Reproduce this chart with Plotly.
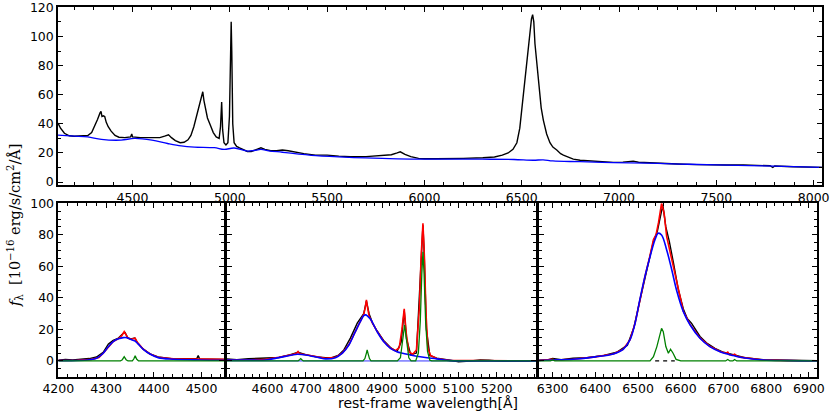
import plotly.graph_objects as go

# ---------------- top panel: full spectrum ----------------
top_wave = [4117, 4130, 4150, 4175, 4200, 4240, 4270, 4290, 4305, 4320, 4333, 4338, 4343, 4350, 4357,
            4365, 4375, 4390, 4410, 4430, 4460, 4490, 4496, 4500, 4540, 4580, 4610, 4640, 4665, 4685,
            4700, 4720, 4745, 4765, 4785, 4800, 4815, 4830, 4845, 4855, 4861, 4867, 4875, 4885, 4900,
            4915, 4930, 4945, 4952, 4958, 4963, 4970, 4980, 4990, 4998, 5004, 5007, 5010, 5015, 5022,
            5035, 5050, 5070, 5090, 5110, 5135, 5160, 5180, 5210, 5240, 5270, 5300, 5340, 5380, 5440,
            5500, 5560, 5620, 5700, 5780, 5830, 5860, 5876, 5900, 5930, 5970, 6000, 6060, 6126, 6200,
            6300, 6360, 6400, 6430, 6455, 6475, 6490, 6505, 6518, 6530, 6542, 6550, 6556, 6562, 6568,
            6577, 6590, 6600, 6611, 6620, 6628, 6645, 6660, 6680, 6700, 6714, 6740, 6765, 6800, 6851,
            6900, 6971, 7020, 7073, 7100, 7142, 7200, 7245, 7300, 7400, 7467, 7550, 7639, 7720, 7776,
            7790, 7800, 7895, 7960, 8043]
top_flux = [40.5, 37, 33.5, 31.8, 31.5, 31.8, 32, 34, 38, 43, 47.5, 48.5, 45, 45.5, 45,
            41, 38, 35, 32, 30.8, 30.5, 31, 33, 31, 30.5, 30.5, 30, 30.5, 31.5, 32.5,
            30.5, 28.5, 27, 27.3, 29, 32, 38, 46, 53, 59, 62, 56, 50, 44, 39,
            34, 31, 30, 38, 55, 36, 27, 25.5, 27, 45, 100, 110, 90, 40, 27,
            24.5, 23.5, 22, 21, 21, 22.5, 23.5, 22.5, 21.5, 21.5, 22, 21.5, 20.4, 19.5, 18.5,
            18.5, 17.8, 17.4, 17.5, 18, 18.8, 20, 20.8, 19, 17.5, 16.3, 16, 16, 16, 16.3,
            16.7, 17.2, 18.5, 20, 22.5, 27, 37, 56, 72, 90, 102, 112, 115, 110, 95,
            81, 61, 51, 42.6, 37, 33, 27, 24, 22, 19.5, 18.5, 17, 15.8, 15, 14.4,
            14, 13.5, 13.7, 14.4, 13.6, 13.3, 12.8, 12.5, 12.4, 12, 11.7, 11.7, 11.7, 11.4, 11.2,
            10, 11, 10.5, 10.3, 10.1]

cont_wave = [4117, 4200, 4270, 4340, 4441, 4510, 4600, 4680, 4750, 4818, 4920, 4971, 5022, 5091,
             5125, 5160, 5200, 5270, 5442, 5613, 5783, 5955, 6126, 6296, 6460, 6560, 6610, 6660,
             6800, 6971, 7142, 7313, 7500, 7800, 8043]
cont_flux = [32.3, 31.6, 31, 29.3, 28.8, 30, 28.8, 26.5, 24.8, 24, 23.6, 22.4, 23.4, 21.3,
             21.7, 22.4, 21.5, 20.5, 18.1, 16.9, 16.3, 15.8, 15.8, 15.7, 15.5, 15.0, 15.3, 14.5,
             14.0, 13.3, 13.0, 12.4, 11.8, 11.0, 10.1]

# ---------------- panel 1: H-gamma ----------------
p1_data_wave = [4200, 4215, 4230, 4252, 4265, 4280, 4294, 4305, 4315, 4326, 4336, 4340, 4345, 4352,
                4360, 4367, 4378, 4392, 4409, 4441, 4470, 4490, 4493, 4496, 4520, 4547]
p1_data_flux = [0.5, 1.0, 0.6, 1.3, 1.5, 2.5, 5.5, 10.8, 13, 14.5, 17.5, 18, 14.8, 14,
                14.5, 11, 7.5, 4.5, 2.5, 1.3, 1.2, 1.5, 3.4, 1.2, 1.1, 1.0]
p1_total_wave = [4200, 4240, 4270, 4285, 4294, 4305, 4315, 4326, 4333, 4338, 4342, 4346, 4352, 4357,
                 4361, 4365, 4370, 4378, 4392, 4409, 4441, 4480, 4547]
p1_total_flux = [0.3, 0.4, 1.0, 2.2, 4.9, 9.1, 12.3, 14.2, 16, 18.6, 16, 14.5, 13.8, 14,
                 14.4, 12, 10, 7.4, 4.4, 2.3, 1.3, 1.1, 1.0]
p1_broad_wave = [4200, 4240, 4265, 4280, 4294, 4305, 4315, 4326, 4336, 4343, 4351, 4360, 4367, 4378,
                 4392, 4409, 4441, 4496, 4547]
p1_broad_flux = [0.2, 0.3, 0.8, 1.7, 4.9, 9.1, 12.3, 14, 14.8, 14.8, 13.7, 12.7, 10.8, 7.4,
                 4.4, 2.1, 1.1, 0.6, 0.4]
p1_narrow_wave = [4200, 4330, 4334, 4338, 4342, 4346, 4355, 4358, 4361, 4364, 4368, 4547]
p1_narrow_flux = [0, 0, 0.8, 2.7, 0.8, 0, 0, 1.2, 3.2, 1.2, 0, 0]

# ---------------- panel 2: H-beta / [OIII] ----------------
p2_data_wave = [4494, 4520, 4550, 4580, 4600, 4630, 4660, 4680, 4700, 4730, 4752, 4770, 4785, 4800,
                4817, 4835, 4852, 4859, 4866, 4875, 4887, 4904, 4922, 4939, 4950, 4958, 4964, 4975,
                4990, 5000, 5004, 5007, 5010, 5016, 5025, 5043, 5078, 5100, 5120, 5157, 5180, 5217,
                5260, 5303]
p2_data_flux = [1.2, 0.8, 1.4, 1.6, 1.7, 2.2, 4.0, 5.5, 4.0, 2.5, 2.0, 2.2, 3.5, 7,
                14.5, 24, 30, 38, 30, 24, 19, 13, 8.5, 6, 12, 32, 14, 4,
                5, 55, 80, 86, 70, 20, 3.5, 1.8, 0.5, -0.5, -0.3, 0.6, 0.4, -0.3,
                -0.2, 0]
p2_total_wave = [4494, 4543, 4595, 4630, 4665, 4676, 4680, 4684, 4700, 4735, 4752, 4778, 4796, 4813,
                 4830, 4843, 4852, 4856, 4859, 4862, 4866, 4875, 4887, 4904, 4922, 4935, 4945, 4952,
                 4958, 4963, 4970, 4980, 4990, 4998, 5002, 5007, 5011, 5015, 5020, 5027, 5043, 5078,
                 5113, 5160, 5303]
p2_total_flux = [0.6, 0.6, 1.1, 2.3, 4.0, 4.8, 5.9, 4.6, 3.9, 2.3, 1.7, 2.3, 5, 10.2,
                 18.8, 25, 29.5, 34, 38.7, 34, 28.5, 24, 18.8, 12.5, 8.2, 6.5, 8.5, 20,
                 33, 18, 6, 4.2, 7, 35, 65, 87.3, 65, 30, 8, 3.5, 1.5, 0.3,
                 0.1, 0.2, 0]
p2_broad_wave = [4494, 4543, 4595, 4630, 4665, 4678, 4700, 4735, 4752, 4778, 4796, 4813, 4830, 4843,
                 4852, 4857, 4862, 4870, 4887, 4904, 4922, 4939, 4974, 5009, 5043, 5078, 5113, 5303]
p2_broad_flux = [0.5, 0.6, 0.6, 2.1, 3.8, 4.2, 3.8, 2.1, 1.3, 2.1, 4.9, 10.1, 18.6, 24.9,
                 28.7, 29.2, 28.5, 26.4, 18.6, 12.3, 8, 5.9, 3.8, 2.3, 1.3, 0.2, 0, 0]
p2_zero_wave = [4494, 5303]
p2_zero_flux = [0, 0]
p2_narrow_wave = [4494, 4680, 4684, 4687, 4690, 4694, 4850, 4855, 4859, 4861, 4863, 4867, 4871, 4940,
                  4948, 4953, 4957, 4959, 4961, 4965, 4970, 4976, 4988, 4995, 5000, 5004, 5007, 5010,
                  5014, 5019, 5025, 5030, 5303]
p2_narrow_flux = [0, 0, 0.8, 1.5, 0.8, 0, 0, 1.5, 5, 7, 5, 1.5, 0, 0,
                  2, 10, 19, 22.8, 19, 10, 2, 0, 0, 5, 25, 55, 69.3, 55,
                  25, 6, 0.5, 0, 0]

# ---------------- panel 3: H-alpha ----------------
p3_data_wave = [6268, 6290, 6300, 6320, 6348, 6380, 6420, 6450, 6475, 6490, 6504, 6516, 6528, 6536,
                6545, 6552, 6558, 6565, 6573, 6583, 6594, 6606, 6615, 6625, 6635, 6645, 6660, 6680,
                6700, 6723, 6750, 6793, 6850, 6919]
p3_data_flux = [0.5, 0.8, 1.5, 0.8, 1.7, 2, 3.5, 5.5, 10, 21, 38, 53, 67, 76,
                82, 92, 99, 85, 76, 62, 45.5, 33, 27, 24, 19.5, 15.5, 11.5, 8,
                5.5, 3.8, 2, 0.8, 0.4, 0.2]
p3_total_wave = [6268, 6295, 6300, 6305, 6348, 6400, 6442, 6465, 6481, 6493, 6504, 6516, 6528, 6536,
                 6542, 6548, 6555, 6561, 6567, 6575, 6583, 6594, 6606, 6622, 6645, 6668, 6692, 6706,
                 6710, 6714, 6722, 6726, 6731, 6739, 6793, 6850, 6919]
p3_total_flux = [0.3, 0.6, 1.1, 0.6, 1.1, 2.6, 4.4, 7.4, 13.3, 23.9, 38.7, 53.5, 67, 77,
                 80, 88, 100, 93.7, 78.8, 69.3, 59.8, 45, 31.5, 23, 14.6, 9.3, 6.0, 4.8,
                 5.6, 3.9, 3.8, 4.3, 3.2, 2.4, 0.6, 0.2, 0]
p3_broad_wave = [6268, 6300, 6348, 6400, 6442, 6465, 6481, 6493, 6504, 6516, 6528, 6540, 6547, 6555,
                 6567, 6579, 6590, 6606, 6622, 6645, 6668, 6692, 6723, 6739, 6793, 6850, 6919]
p3_broad_flux = [0.3, 0.6, 1.1, 2.6, 4.4, 7.4, 13.3, 23.9, 38.7, 53.5, 66.1, 77.2, 81, 79.9,
                 70.4, 57.7, 45, 31.3, 22.8, 14.4, 9.1, 5.9, 3.4, 2.3, 0.6, 0.2, 0]
p3_narrow_wave = [6268, 6295, 6300, 6305, 6528, 6536, 6544, 6551, 6555, 6559, 6565, 6571, 6576, 6582,
                  6589, 6600, 6705, 6710, 6715, 6722, 6726, 6731, 6919]
p3_narrow_flux = [0, 0, 0.6, 0, 0, 2.7, 9.1, 17.5, 20.7, 18.6, 9.1, 4.9, 7.4, 4.9,
                  1, 0, 0, 0.9, 0, 0, 0.9, 0, 0]
p3_dash_wave = [6540, 6586]
p3_dash_flux = [0, 0]

# ---------------- axis settings ----------------
top_xticks = [4500, 5000, 5500, 6000, 6500, 7000, 7500, 8000]
top_yticks = [0, 20, 40, 60, 80, 100, 120]
bot_yticks = [0, 20, 40, 60, 80, 100]
p1_xticks = [4200, 4300, 4400, 4500]
p2_xticks = [4600, 4700, 4800, 4900, 5000, 5100, 5200]
p3_xticks = [6300, 6400, 6500, 6600, 6700, 6800, 6900]

W, H = 830, 415
def fx(px): return min(1.0, max(0.0, px / W))
def fy(py): return min(1.0, max(0.0, 1 - py / H))

BLACK, RED, BLUE, GREEN = "#000000", "#ff0000", "#0000ff", "#008000"

fig = go.Figure()
def add(x, y, color, width, xa, ya, dash=None, shape="linear"):
    fig.add_trace(go.Scatter(x=x, y=y, mode="lines", xaxis=xa, yaxis=ya,
                             line=dict(color=color, width=width, dash=dash, shape=shape),
                             showlegend=False, hoverinfo="skip"))

add(top_wave, top_flux, BLACK, 1.4, "x", "y")
add(cont_wave, cont_flux, BLUE, 1.3, "x", "y", shape="spline")

add(p1_data_wave, p1_data_flux, BLACK, 1.4, "x2", "y2")
add(p1_total_wave, p1_total_flux, RED, 1.6, "x2", "y2")
add(p1_broad_wave, p1_broad_flux, BLUE, 1.6, "x2", "y2", shape="spline")
add(p1_narrow_wave, p1_narrow_flux, GREEN, 1.3, "x2", "y2")

add(p2_data_wave, p2_data_flux, BLACK, 1.4, "x3", "y3")
add(p2_total_wave, p2_total_flux, RED, 1.6, "x3", "y3")
add(p2_zero_wave, p2_zero_flux, BLUE, 0.8, "x3", "y3")
add(p2_broad_wave, p2_broad_flux, BLUE, 1.6, "x3", "y3", shape="spline")
add(p2_narrow_wave, p2_narrow_flux, GREEN, 1.3, "x3", "y3")

add(p3_data_wave, p3_data_flux, BLACK, 1.4, "x4", "y4")
add(p3_total_wave, p3_total_flux, RED, 1.6, "x4", "y4")
add(p3_broad_wave, p3_broad_flux, BLUE, 1.6, "x4", "y4", shape="spline")
add(p3_narrow_wave, p3_narrow_flux, GREEN, 1.3, "x4", "y4")
add(p3_dash_wave, p3_dash_flux, BLACK, 1.3, "x4", "y4", dash="4px,4px")

tickfont = dict(family="DejaVu Sans", size=12.5, color="black")
def xax(domain, rng, ticks, minor, anchor):
    return dict(domain=domain, range=rng, anchor=anchor, tickmode="array", tickvals=ticks,
                ticks="inside", ticklen=5, tickwidth=1, tickcolor="black", automargin=False,
                showline=True, linecolor="black", linewidth=1.5, mirror="allticks",
                showgrid=False, zeroline=False, tickfont=tickfont, ticklabeloverflow="allow",
                minor=dict(ticks="inside", ticklen=3, tickwidth=1, tickcolor="black", dtick=minor,
                           showgrid=False))
def yax(domain, rng, ticks, minor, anchor, labels=True):
    return dict(domain=domain, range=rng, anchor=anchor, tickmode="array", tickvals=ticks,
                ticks="inside", ticklen=5, tickwidth=1, tickcolor="black", automargin=False,
                showline=True, linecolor="black", linewidth=1.5, mirror="allticks",
                showgrid=False, zeroline=False, tickfont=tickfont, showticklabels=labels,
                ticklabeloverflow="allow",
                minor=dict(ticks="inside", ticklen=3, tickwidth=1, tickcolor="black", dtick=minor,
                           showgrid=False))

ytop = [fy(185), fy(7.3)]
ybot = [fy(376.7), fy(203.3)]
fig.update_layout(
    width=W, height=H, margin=dict(l=0, r=0, t=0, b=0, pad=0, autoexpand=False),
    paper_bgcolor="white", plot_bgcolor="white",
    xaxis=xax([fx(58), fx(822)], [4117, 8043], top_xticks, 100, "y"),
    yaxis=yax(ytop, [-2, 120], top_yticks, 10, "x"),
    xaxis2=xax([fx(58.3), fx(224)], [4200, 4547], p1_xticks, 20, "y2"),
    yaxis2=yax(ybot, [-10, 100], bot_yticks, 5, "x2"),
    xaxis3=xax([fx(227), fx(536)], [4494, 5303], p2_xticks, 20, "y3"),
    yaxis3=yax(ybot, [-10, 100], bot_yticks, 5, "x3", labels=False),
    xaxis4=xax([fx(539), fx(817)], [6268, 6919], p3_xticks, 20, "y4"),
    yaxis4=yax(ybot, [-10, 100], bot_yticks, 5, "x4", labels=False),
    annotations=[
        dict(text="<i>f</i><sub>λ</sub>  [10<sup>−16</sup> erg/s/cm<sup>2</sup>/Å]",
             textangle=-90, x=fx(15), y=fy(226), xref="paper", yref="paper",
             xanchor="center", yanchor="middle",
             showarrow=False, font=dict(family="DejaVu Serif", size=14.5, color="black")),
        dict(text="rest-frame wavelength[Å]", x=fx(428), y=fy(403), xref="paper", yref="paper",
             xanchor="center", yanchor="middle",
             showarrow=False, font=dict(family="DejaVu Sans", size=14, color="black")),
    ],
)

# remove the page's default body margin so the figure sits at the window's top-left corner
fig.write_html("out.html", config={"displayModeBar": False},
               post_script="document.body.style.margin='0px';")
